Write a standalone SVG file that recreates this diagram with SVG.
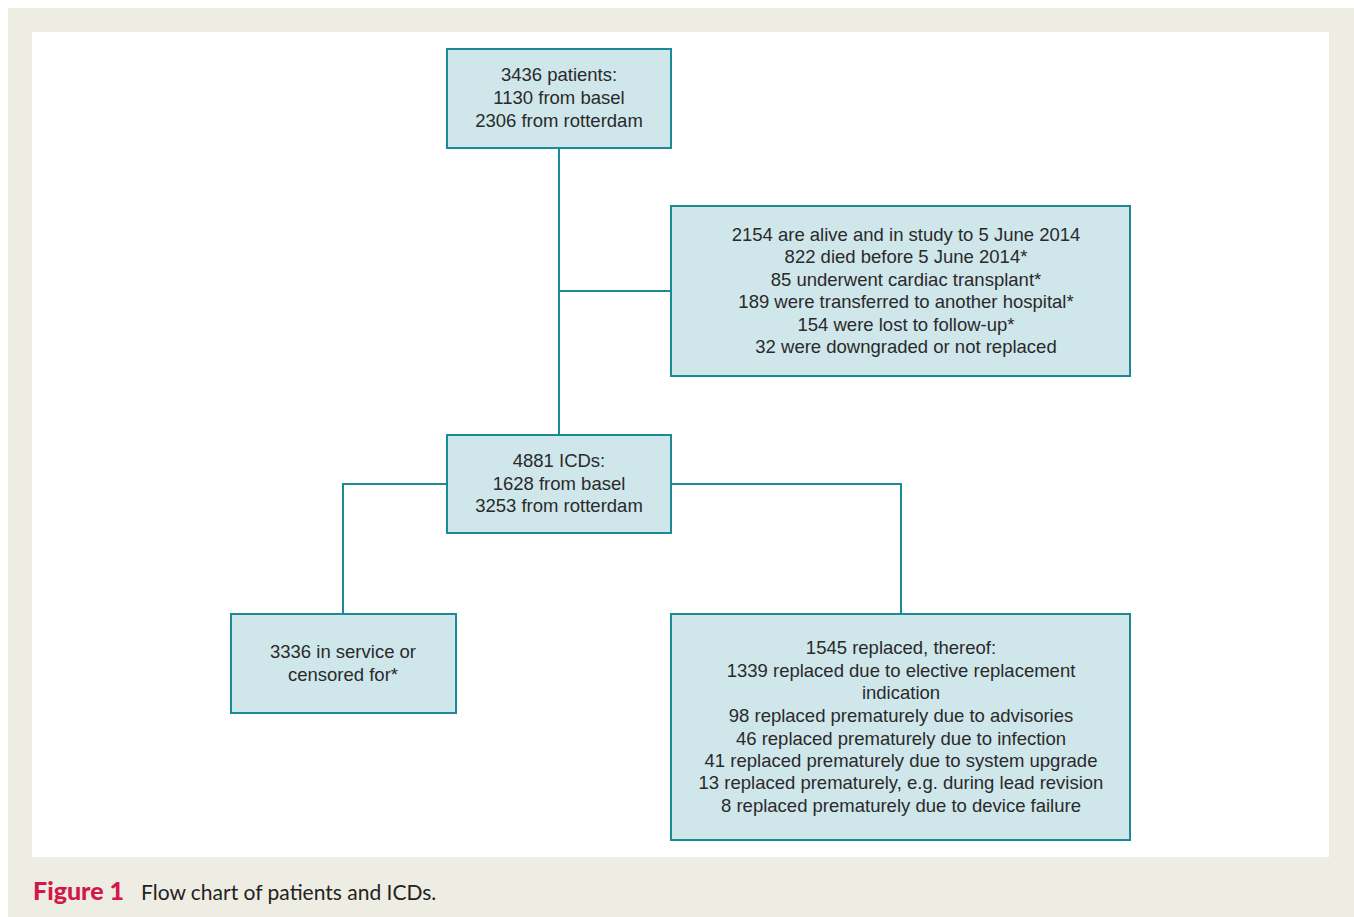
<svg xmlns="http://www.w3.org/2000/svg" width="1354" height="917" viewBox="0 0 1354 917">
<style>
.box{fill:#cfe6ea;stroke:#1b8a95;stroke-width:2}
.t{font-family:"Liberation Sans",Arial,sans-serif;font-size:18.5px;fill:#2a2a2a;text-anchor:middle}
.c{fill:none;stroke:#1b8a95;stroke-width:2}
</style>
<rect x="0" y="0" width="1354" height="917" fill="#ffffff"/>
<rect x="8" y="8" width="1346" height="909" fill="#eeede3"/>
<rect x="32" y="32" width="1297" height="825" fill="#ffffff"/>
<g id="connectors">
<path class="c" d="M559 148 V435 M559 291 H671 M447 484 H343 V614 M671 484 H901 V614"/>
</g>
<g id="n1">
<rect class="box" x="447" y="49" width="224" height="99"/>
<text class="t" x="559" y="81">3436 patients:</text>
<text class="t" x="559" y="104">1130 from basel</text>
<text class="t" x="559" y="127">2306 from rotterdam</text>
</g>
<g id="n2">
<rect class="box" x="671" y="206" width="459" height="170"/>
<text class="t" x="906" y="241">2154 are alive and in study to 5 June 2014</text>
<text class="t" x="906" y="263">822 died before 5 June 2014*</text>
<text class="t" x="906" y="286">85 underwent cardiac transplant*</text>
<text class="t" x="906" y="308">189 were transferred to another hospital*</text>
<text class="t" x="906" y="331">154 were lost to follow-up*</text>
<text class="t" x="906" y="353">32 were downgraded or not replaced</text>
</g>
<g id="n3">
<rect class="box" x="447" y="435" width="224" height="98"/>
<text class="t" x="559" y="467">4881 ICDs:</text>
<text class="t" x="559" y="490">1628 from basel</text>
<text class="t" x="559" y="512">3253 from rotterdam</text>
</g>
<g id="n4">
<rect class="box" x="231" y="614" width="225" height="99"/>
<text class="t" x="343" y="658">3336 in service or</text>
<text class="t" x="343" y="681">censored for*</text>
</g>
<g id="n5">
<rect class="box" x="671" y="614" width="459" height="226"/>
<text class="t" x="901" y="654">1545 replaced, thereof:</text>
<text class="t" x="901" y="677">1339 replaced due to elective replacement</text>
<text class="t" x="901" y="699">indication</text>
<text class="t" x="901" y="722">98 replaced prematurely due to advisories</text>
<text class="t" x="901" y="745">46 replaced prematurely due to infection</text>
<text class="t" x="901" y="767">41 replaced prematurely due to system upgrade</text>
<text class="t" x="901" y="789">13 replaced prematurely, e.g. during lead revision</text>
<text class="t" x="901" y="812">8 replaced prematurely due to device failure</text>
</g>
<g id="caption">
<text x="33" y="900" font-family="Lato,'Open Sans',sans-serif" font-weight="900" font-size="25" fill="#d4174a">Figure 1</text>
<text x="141" y="900" font-family="Lato,'Open Sans',sans-serif" font-size="21" fill="#222">Flow chart of patients and ICDs.</text>
</g>
</svg>
